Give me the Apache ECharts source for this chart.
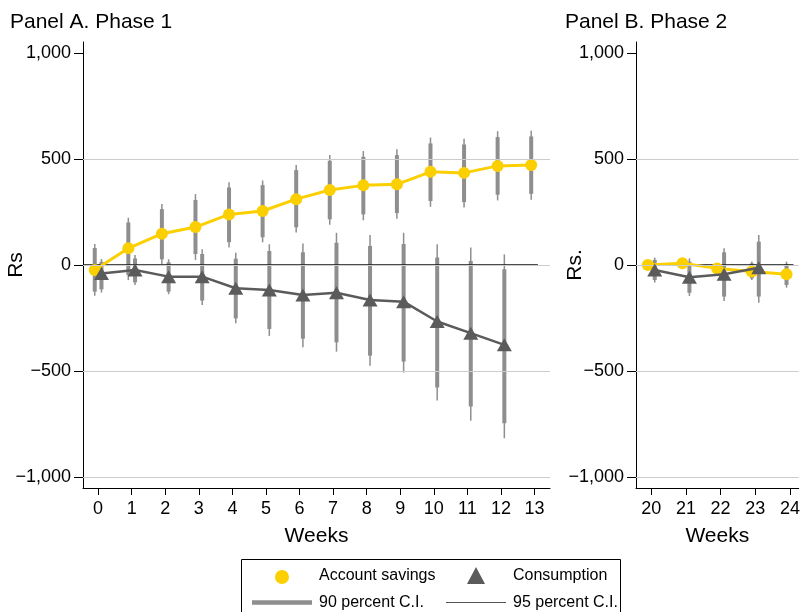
<!DOCTYPE html>
<html>
<head>
<meta charset="utf-8">
<script src="https://cdn.jsdelivr.net/npm/echarts@6/dist/echarts.min.js"></script>
<style>
  html, body { margin: 0; padding: 0; background: #fff; }
  #chart { width: 803px; height: 612px; }
</style>
</head>
<body>
<div id="chart"></div>
<script>
  // Panel A: phase 1
  const weeksA = [0, 1, 2, 3, 4, 5, 6, 7, 8, 9, 10, 11, 12, 13]
  const savingsA = [-24, 79, 148, 179, 239, 255, 311, 354, 376, 381, 440, 435, 468, 472]
  const savA90lo = [-126, -47, 27, 52, 108, 131, 178, 216, 239, 245, 302, 297, 332, 336]
  const savA90hi = [80, 201, 264, 307, 366, 377, 448, 492, 511, 519, 574, 569, 604, 607]
  const savA95lo = [-145, -71, 5, 24, 83, 107, 154, 190, 211, 218, 275, 272, 305, 308]
  const savA95hi = [99, 223, 288, 335, 391, 399, 472, 519, 538, 546, 602, 596, 632, 634]
  const consWeeksA = [0, 1, 2, 3, 4, 5, 6, 7, 8, 9, 10, 11, 12]
  const consA = [-40, -24, -55, -55, -110, -118, -142, -131, -165, -173, -267, -322, -377]
  const consA90lo = [-115, -82, -126, -168, -252, -302, -348, -365, -428, -456, -579, -668, -747]
  const consA90hi = [15, 31, 13, 52, 30, 66, 60, 105, 90, 99, 36, 19, -20]
  const consA95lo = [-130, -94, -138, -189, -275, -335, -388, -409, -476, -508, -640, -736, -818]
  const consA95hi = [28, 47, 27, 74, 58, 98, 102, 152, 142, 152, 98, 83, 50]

  // Panel B: phase 2
  const weeksB = [20, 21, 22, 23, 24]
  const savingsB = [0, 8, -16, -31, -44]
  const savB90lo = [-6, -10, -35, -63, -94]
  const savB90hi = [6, 22, 4, 8, 5]
  const savB95lo = [-10, -16, -42, -71, -107]
  const savB95hi = [10, 28, 10, 16, 16]
  const consWeeksB = [20, 21, 22, 23]
  const consB = [-24, -58, -44, -13]
  const consB90lo = [-71, -131, -149, -149]
  const consB90hi = [24, 16, 60, 110]
  const consB95lo = [-83, -146, -170, -178]
  const consB95hi = [35, 31, 79, 142]

  const yTicks = [-1000, -500, 0, 500, 1000]
  const gridVals = [-1000, -500, 0, 500]

  const YELLOW = '#fccf00'
  const DARK = '#5b5b5b'
  const CI = '#8e8e8e'
  const FONT = 'Liberation Sans'
  const OFF = 0.1 // savings drawn left of the week, consumption right

  const chart = echarts.init(document.getElementById('chart'), null, { renderer: 'canvas' })

  function fmt(v) {
    const s = Math.abs(v).toLocaleString('en-US')
    return v < 0 ? '\u2212' + s : s
  }

  function ciData(weeks, lo, hi, off) {
    return weeks.map((w, i) => [w + off, lo[i], hi[i]])
  }

  function ciSeries(idx, data, width) {
    return {
      type: 'custom',
      xAxisIndex: idx,
      yAxisIndex: idx,
      silent: true,
      z: 2,
      data: data,
      encode: { x: 0, y: [1, 2] },
      renderItem(params, api) {
        const a = api.coord([api.value(0), api.value(1)])
        const b = api.coord([api.value(0), api.value(2)])
        return {
          type: 'line',
          shape: { x1: a[0], y1: a[1], x2: b[0], y2: b[1] },
          style: { stroke: CI, lineWidth: width }
        }
      }
    }
  }

  function gridSeries(idx) {
    return {
      type: 'line',
      xAxisIndex: idx,
      yAxisIndex: idx,
      data: [],
      z: 1,
      markLine: {
        silent: true,
        symbol: 'none',
        label: { show: false },
        lineStyle: { color: '#cccccc', width: 1, type: 'solid' },
        data: gridVals.map(v => ({ yAxis: v }))
      }
    }
  }

  function zeroSeries(idx, x0, x1) {
    return {
      type: 'line',
      xAxisIndex: idx,
      yAxisIndex: idx,
      data: [[x0, 0], [x1, 0]],
      symbol: 'none',
      silent: true,
      z: 3,
      lineStyle: { color: '#111', width: 1.5 }
    }
  }

  function savSeries(idx, weeks, vals) {
    return {
      type: 'line',
      xAxisIndex: idx,
      yAxisIndex: idx,
      data: weeks.map((w, i) => [w - OFF, vals[i]]),
      symbol: 'circle',
      symbolSize: 12,
      z: 4,
      itemStyle: { color: YELLOW },
      lineStyle: { color: YELLOW, width: 3 }
    }
  }

  function consSeries(idx, weeks, vals) {
    return {
      type: 'line',
      xAxisIndex: idx,
      yAxisIndex: idx,
      data: weeks.map((w, i) => [w + OFF, vals[i]]),
      symbol: 'triangle',
      symbolSize: [15, 13],
      z: 5,
      itemStyle: { color: DARK },
      lineStyle: { color: DARK, width: 2.5 }
    }
  }

  function xAxis(idx, min, max, ticks) {
    return {
      type: 'value',
      gridIndex: idx,
      min: min,
      max: max,
      name: 'Weeks',
      nameLocation: 'middle',
      nameGap: 38,
      nameTextStyle: { fontFamily: FONT, fontSize: 21, color: '#000' },
      axisLine: { show: true, onZero: false, lineStyle: { color: '#000', width: 1 } },
      axisTick: { show: true, length: 7, customValues: ticks, lineStyle: { color: '#000' } },
      axisLabel: { customValues: ticks, margin: 12, fontFamily: FONT, fontSize: 18, color: '#000' },
      splitLine: { show: false }
    }
  }

  function yAxis(idx) {
    return {
      type: 'value',
      gridIndex: idx,
      min: -1053,
      max: 1053,
      axisLine: { show: true, onZero: false, lineStyle: { color: '#000', width: 1 } },
      axisTick: { show: true, length: 9, customValues: yTicks, lineStyle: { color: '#000' } },
      axisLabel: { customValues: yTicks, margin: 12, fontFamily: FONT, fontSize: 18, color: '#000', formatter: fmt },
      splitLine: { show: false }
    }
  }

  function txt(x, y, s, size, extra) {
    return Object.assign({
      type: 'text', x: x, y: y,
      style: { text: s, fontFamily: FONT, fontSize: size, fill: '#000', textVerticalAlign: 'middle' }
    }, extra || {})
  }

  chart.setOption({
    animation: false,
    backgroundColor: '#fff',
    grid: [
      { left: 83, top: 42, width: 467, height: 446 },
      { left: 636, top: 42, width: 166, height: 446 }
    ],
    xAxis: [
      xAxis(0, -0.45, 13.46, weeksA),
      xAxis(1, 19.56, 24.25, weeksB)
    ],
    yAxis: [yAxis(0), yAxis(1)],
    graphic: [
      txt(10, 22, 'Panel A. Phase 1', 21),
      txt(565, 22, 'Panel B. Phase 2', 21),
      txt(16, 265, 'Rs', 21, { rotation: Math.PI / 2, style: { text: 'Rs', fontFamily: FONT, fontSize: 21, fill: '#000', align: 'center', verticalAlign: 'middle' } }),
      txt(575, 265, 'Rs.', 21, { rotation: Math.PI / 2, style: { text: 'Rs.', fontFamily: FONT, fontSize: 21, fill: '#000', align: 'center', verticalAlign: 'middle' } }),
      // legend box
      { type: 'rect', shape: { x: 241.5, y: 559.5, width: 379, height: 60 }, style: { fill: '#fff', stroke: '#000', lineWidth: 1 } },
      { type: 'circle', shape: { cx: 282, cy: 577, r: 7 }, style: { fill: YELLOW } },
      txt(319, 576, 'Account savings', 16),
      { type: 'polygon', shape: { points: [[476, 567], [485, 584], [467, 584]] }, style: { fill: DARK } },
      txt(513, 576, 'Consumption', 16),
      { type: 'line', shape: { x1: 252, y1: 602.5, x2: 312, y2: 602.5 }, style: { stroke: CI, lineWidth: 4.5 } },
      txt(319, 603, '90 percent C.I.', 16),
      { type: 'line', shape: { x1: 446, y1: 602.5, x2: 506, y2: 602.5 }, style: { stroke: '#555', lineWidth: 1 } },
      txt(513, 603, '95 percent C.I.', 16)
    ],
    series: [
      gridSeries(0),
      ciSeries(0, ciData(weeksA, savA95lo, savA95hi, -OFF), 1.5),
      ciSeries(0, ciData(weeksA, savA90lo, savA90hi, -OFF), 4),
      ciSeries(0, ciData(consWeeksA, consA95lo, consA95hi, OFF), 1.5),
      ciSeries(0, ciData(consWeeksA, consA90lo, consA90hi, OFF), 4),
      zeroSeries(0, -0.45, 13.1),
      savSeries(0, weeksA, savingsA),
      consSeries(0, consWeeksA, consA),

      gridSeries(1),
      ciSeries(1, ciData(weeksB, savB95lo, savB95hi, -OFF), 1.5),
      ciSeries(1, ciData(weeksB, savB90lo, savB90hi, -OFF), 4),
      ciSeries(1, ciData(consWeeksB, consB95lo, consB95hi, OFF), 1.5),
      ciSeries(1, ciData(consWeeksB, consB90lo, consB90hi, OFF), 4),
      zeroSeries(1, 19.9, 24.1),
      savSeries(1, weeksB, savingsB),
      consSeries(1, consWeeksB, consB)
    ]
  })
</script>
</body>
</html>
